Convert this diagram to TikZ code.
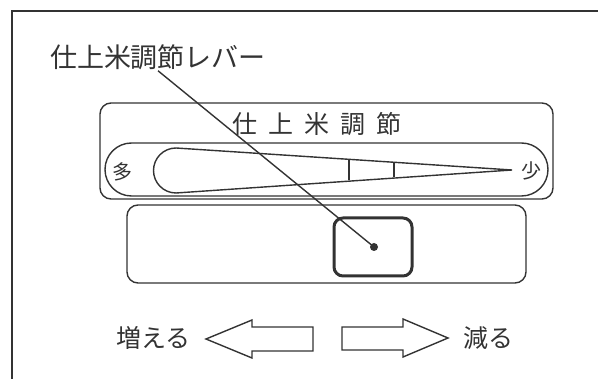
\documentclass[tikz,border=0pt]{standalone}
\usepackage{fontspec}
\newfontfamily\jp{Noto Sans CJK JP}
\begin{document}
\begin{tikzpicture}[x=1pt,y=-1pt,
  line/.style={draw=black!80,line width=1.4pt},
  txt/.style={inner sep=0pt,text=black!80},
  big/.style={txt,font=\jp\fontsize{27}{27}\selectfont},
  mid/.style={txt,font=\jp\fontsize{25}{25}\selectfont},
  small/.style={txt,font=\jp\fontsize{20}{20}\selectfont}]
\useasboundingbox (0,0) rectangle (598,379);
% frame
\draw[draw=black!80,line width=2pt] (11.5,379) -- (11.5,11.5) -- (598,11.5);
% outer panel
\draw[line,rounded corners=11pt] (100,103) rectangle (553,199);
\node[mid] (title) at (316.5,124) {仕\hspace{11pt}上\hspace{11pt}米\hspace{11pt}調\hspace{11pt}節};
% pill
\draw[line] (131.5,143) -- (521.5,143) arc(-90:90:26.5) -- (131.5,196) arc(90:270:26.5) -- cycle;
\node[small] (many) at (122.5,172) {多};
\node[small] (few) at (531,171) {少};
% wedge
\draw[line] (512,170) -- (176,148) arc(-90:-270:22.5) -- cycle;
\draw[line] (349,159) -- (349,180);
\draw[line] (394,163) -- (394,177);
% lower rect
\draw[line,rounded corners=11pt] (127,205) rectangle (526,283);
% lever box
\draw[draw=black!80,line width=3pt,rounded corners=9pt] (334,218) rectangle (412,276);
\node[circle,fill=black!80,minimum size=8pt,inner sep=0pt] (dot) at (374,247) {};
% label and leader
\node[big] (lab) at (158,57) {仕上米調節レバー};
\draw[line] ([yshift=-1pt]lab.south) -- (dot.center);
% arrows
\node[mid] (inc) at (153.5,338) {増える};
\node[mid] (dec) at (488,338) {減る};
\draw[line,line join=miter] (206,339) -- (252,320) -- (252,327) -- (313,327) -- (313,351) -- (252,351) -- (252,358) -- cycle;
\draw[line,line join=miter] (448,338) -- (403,319) -- (403,327) -- (342,327) -- (342,350) -- (403,350) -- (403,357) -- cycle;
\end{tikzpicture}
\end{document}
